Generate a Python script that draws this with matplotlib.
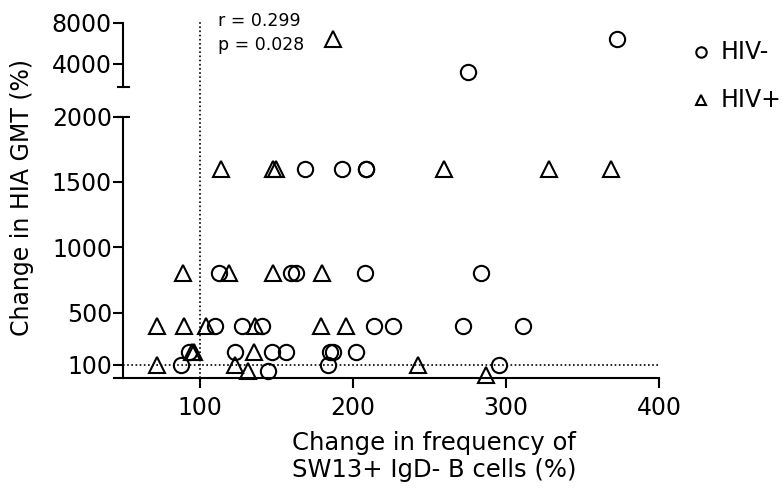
import matplotlib
matplotlib.use("Agg")
import matplotlib.pyplot as plt
from matplotlib.lines import Line2D
import matplotlib.transforms as mtransforms
import numpy as np

plt.rcParams['font.family'] = ['DejaVu Sans']

# ---- data ----
hivneg_x = [372.5, 275, 169, 193, 209, 209, 113, 160, 163, 208, 284,
            110, 128, 141, 214, 226, 272, 311,
            93, 123, 147.5, 156.5, 185, 187, 202,
            88, 184, 295.5, 145]
hivneg_y = [6400, 3200, 1600, 1600, 1600, 1600, 800, 800, 800, 800, 800,
            400, 400, 400, 400, 400, 400, 400,
            200, 200, 200, 200, 200, 200, 200,
            100, 100, 100, 50]
hivpos_x = [187, 114, 148, 150, 259.5, 328, 368.5,
            89.5, 119.5, 148, 180,
            72.5, 90, 104, 136, 179.5, 195.5,
            95, 96.5, 135.5,
            72, 123, 242.5, 131.5, 287]
hivpos_y = [6400, 1600, 1600, 1600, 1600, 1600, 1600,
            800, 800, 800, 800,
            400, 400, 400, 400, 400, 400,
            200, 200, 200,
            100, 100, 100, 50, 25]

xticks = [100, 200, 300, 400]
yticks_low = [0, 100, 500, 1000, 1500, 2000]
yticklabels_low = ["", "100", "500", "1000", "1500", "2000"]
yticks_up = [4000, 8000]
stats_text = ["r = 0.299", "p = 0.028"]
series_names = ["HIV-", "HIV+"]

W, H = 784, 492
fig = plt.figure(figsize=(W / 100, H / 100), dpi=100)

def fx(px):
    return px / W

def fy(py):
    return 1 - py / H

left, right = 123, 659
ax = fig.add_axes([fx(left), fy(378), fx(right - left), (378 - 116.5) / H])
axu = fig.add_axes([fx(left), fy(87), fx(right - left), (87 - 23) / H])

low_top, up_bottom = 2000, 1756
lw = 1.5
mk = dict(ms=11, mfc='none', mec='black', mew=1.5, ls='none', clip_on=False)

nx, ny = np.array(hivneg_x), np.array(hivneg_y)
px_, py_ = np.array(hivpos_x), np.array(hivpos_y)
ax.plot(nx[ny <= low_top], ny[ny <= low_top], marker='o', **mk)
ax.plot(px_[py_ <= low_top], py_[py_ <= low_top], marker='^', **mk)
axu.plot(nx[ny > low_top], ny[ny > low_top], marker='o', **mk)
axu.plot(px_[py_ > low_top], py_[py_ > low_top], marker='^', **mk)

for a in (ax, axu):
    a.set_xlim(50, 400)
    for s in ['top', 'right']:
        a.spines[s].set_visible(False)
    a.spines['left'].set_linewidth(lw)
    a.spines['bottom'].set_linewidth(lw)
    a.tick_params(axis='both', width=lw, length=7, labelsize=17, pad=1)
    a.patch.set_visible(False)

ax.set_ylim(0, low_top)
ax.set_yticks(yticks_low)
ax.set_yticklabels(yticklabels_low)
ax.set_xticks(xticks)
ax.tick_params(axis='x', pad=6)

axu.set_ylim(up_bottom, 8000)
axu.set_yticks(yticks_up)
axu.spines['bottom'].set_visible(False)
axu.set_xticks([])

# caps on broken axis
capw = 5.5 / (right - left)
trl = mtransforms.blended_transform_factory(ax.transAxes, ax.transData)
ax.add_line(Line2D([-capw, capw], [low_top, low_top], transform=trl, color='black', lw=lw, clip_on=False))
tru = mtransforms.blended_transform_factory(axu.transAxes, axu.transData)
axu.add_line(Line2D([-capw, capw], [up_bottom, up_bottom], transform=tru, color='black', lw=lw, clip_on=False))

# dotted reference lines
dot = (0, (1, 1.5))
ax.axhline(100, color='black', lw=1.2, ls=dot)
trv = mtransforms.blended_transform_factory(ax.transData, fig.transFigure)
fig.add_artist(Line2D([100, 100], [fy(378), fy(22)], transform=trv, color='black', lw=1.2, ls=dot))

# stats text
fig.text(fx(218), fy(21), stats_text[0], fontsize=12.5, va='center', ha='left')
fig.text(fx(218), fy(45), stats_text[1], fontsize=12.5, va='center', ha='left')

# legend (manual, mimicking Prism)
fig.add_artist(Line2D([fx(701)], [fy(52)], marker='o', ms=7.5, mfc='none', mec='black', mew=1.5, transform=fig.transFigure))
fig.add_artist(Line2D([fx(701)], [fy(100)], marker='^', ms=7.5, mfc='none', mec='black', mew=1.5, transform=fig.transFigure))
fig.text(fx(721), fy(52), series_names[0], fontsize=17, va='center', ha='left')
fig.text(fx(721), fy(100), series_names[1], fontsize=17, va='center', ha='left')

# axis labels
ax.set_xlabel("Change in frequency of\nSW13+ IgD- B cells (%)", fontsize=17.5, linespacing=1.15)
ax.xaxis.set_label_coords((434 - left) / (right - left), (378 - 431) / (378 - 116.5))
fig.text(fx(22), fy(198), "Change in HIA GMT (%)", fontsize=17, rotation=90, va='center', ha='center')

fig.savefig("out.png", dpi=100)
